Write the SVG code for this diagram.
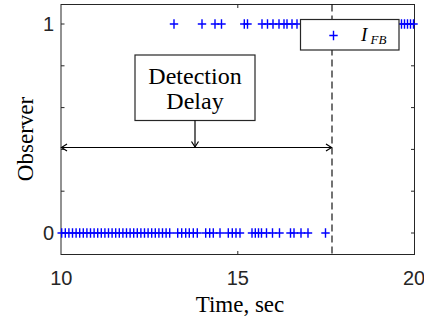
<svg xmlns="http://www.w3.org/2000/svg" xmlns:xlink="http://www.w3.org/1999/xlink" width="424" height="320" viewBox="0 0 424 320">
  <style>
    .axis { fill: none; stroke: #262626; stroke-width: 1; }
    .tick { stroke: #262626; stroke-width: 1; }
    .num { font-family: "Liberation Sans", Arial, sans-serif; font-size: 20px; fill: #262626; }
    .lbl { font-family: "Liberation Serif", "Times New Roman", serif; font-size: 23px; fill: #000; }
    .big { font-size: 24px; }
    .pts use { stroke: #0000ff; stroke-width: 1.4; }
    .box { fill: #fff; stroke: #262626; stroke-width: 1.2; }
    .conn { fill: none; stroke: #000; stroke-width: 1.2; }
    .dash { stroke: #000; stroke-width: 1.1; stroke-dasharray: 7 4; }
  </style>
  <defs>
    <path id="plus" d="M-4.2,0H4.2M0,-4.8V4.8"/>
    <marker id="chev" markerUnits="userSpaceOnUse" markerWidth="12" markerHeight="12" viewBox="-7 -6 8 12" refX="0" refY="0" orient="auto-start-reverse">
      <path d="M-5.5,-3.5L0,0L-5.5,3.5" fill="none" stroke="#000" stroke-width="1.2"/>
    </marker>
  </defs>

  <rect width="424" height="320" fill="#fff"/>

  <!-- plot frame and ticks -->
  <g id="axes">
    <rect class="axis" x="61" y="4.5" width="353.5" height="250"/>
    <g class="tick">
      <line x1="61" y1="24" x2="64.5" y2="24"/>
      <line x1="61" y1="65.8" x2="64.5" y2="65.8"/>
      <line x1="61" y1="107.6" x2="64.5" y2="107.6"/>
      <line x1="61" y1="149.4" x2="64.5" y2="149.4"/>
      <line x1="61" y1="191.2" x2="64.5" y2="191.2"/>
      <line x1="61" y1="233" x2="64.5" y2="233"/>
      <line x1="414.5" y1="24" x2="411" y2="24"/>
      <line x1="414.5" y1="65.8" x2="411" y2="65.8"/>
      <line x1="414.5" y1="107.6" x2="411" y2="107.6"/>
      <line x1="414.5" y1="149.4" x2="411" y2="149.4"/>
      <line x1="414.5" y1="191.2" x2="411" y2="191.2"/>
      <line x1="414.5" y1="233" x2="411" y2="233"/>
      <line x1="237.8" y1="254.5" x2="237.8" y2="251"/>
      <line x1="237.8" y1="4.5" x2="237.8" y2="8"/>
    </g>
    <text class="num" x="54" y="31" text-anchor="end">1</text>
    <text class="num" x="54" y="240" text-anchor="end">0</text>
    <text class="num" x="61.3" y="285" text-anchor="middle">10</text>
    <text class="num" x="237.8" y="285" text-anchor="middle">15</text>
    <text class="num" x="414" y="285" text-anchor="middle">20</text>
    <text class="lbl" x="240" y="311.5" text-anchor="middle">Time, sec</text>
    <text class="lbl" transform="translate(32.5,139) rotate(-90)" text-anchor="middle">Observer</text>
  </g>

  <!-- fault instant -->
  <line id="fault-line" class="dash" x1="332" y1="4.5" x2="332" y2="254.5"/>

  <!-- observer samples -->
  <g id="samples" class="pts">
    <!-- level 1 -->
    <use xlink:href="#plus" x="174" y="24"/>
    <use xlink:href="#plus" x="202" y="24"/>
    <use xlink:href="#plus" x="215" y="24"/>
    <use xlink:href="#plus" x="221.5" y="24"/>
    <use xlink:href="#plus" x="244.3" y="24"/>
    <use xlink:href="#plus" x="247.5" y="24"/>
    <use xlink:href="#plus" x="262" y="24"/>
    <use xlink:href="#plus" x="267.5" y="24"/>
    <use xlink:href="#plus" x="273" y="24"/>
    <use xlink:href="#plus" x="279" y="24"/>
    <use xlink:href="#plus" x="284" y="24"/>
    <use xlink:href="#plus" x="287" y="24"/>
    <use xlink:href="#plus" x="292" y="24"/>
    <use xlink:href="#plus" x="297" y="24"/>
    <use xlink:href="#plus" x="401.5" y="24"/>
    <use xlink:href="#plus" x="404.5" y="24"/>
    <use xlink:href="#plus" x="407.5" y="24"/>
    <use xlink:href="#plus" x="410.5" y="24"/>
    <use xlink:href="#plus" x="413.5" y="24"/>
    <!-- level 0 -->
    <use xlink:href="#plus" x="61.7" y="233"/>
    <use xlink:href="#plus" x="65.3" y="233"/>
    <use xlink:href="#plus" x="68.9" y="233"/>
    <use xlink:href="#plus" x="72.5" y="233"/>
    <use xlink:href="#plus" x="76.1" y="233"/>
    <use xlink:href="#plus" x="79.7" y="233"/>
    <use xlink:href="#plus" x="83.3" y="233"/>
    <use xlink:href="#plus" x="86.9" y="233"/>
    <use xlink:href="#plus" x="90.5" y="233"/>
    <use xlink:href="#plus" x="94.1" y="233"/>
    <use xlink:href="#plus" x="97.7" y="233"/>
    <use xlink:href="#plus" x="101.3" y="233"/>
    <use xlink:href="#plus" x="104.9" y="233"/>
    <use xlink:href="#plus" x="108.5" y="233"/>
    <use xlink:href="#plus" x="112.1" y="233"/>
    <use xlink:href="#plus" x="115.7" y="233"/>
    <use xlink:href="#plus" x="119.3" y="233"/>
    <use xlink:href="#plus" x="122.9" y="233"/>
    <use xlink:href="#plus" x="126.5" y="233"/>
    <use xlink:href="#plus" x="130.1" y="233"/>
    <use xlink:href="#plus" x="133.7" y="233"/>
    <use xlink:href="#plus" x="137.3" y="233"/>
    <use xlink:href="#plus" x="140.9" y="233"/>
    <use xlink:href="#plus" x="144.5" y="233"/>
    <use xlink:href="#plus" x="148.1" y="233"/>
    <use xlink:href="#plus" x="151.7" y="233"/>
    <use xlink:href="#plus" x="155.3" y="233"/>
    <use xlink:href="#plus" x="158.9" y="233"/>
    <use xlink:href="#plus" x="162.5" y="233"/>
    <use xlink:href="#plus" x="166.1" y="233"/>
    <use xlink:href="#plus" x="169.7" y="233"/>
    <use xlink:href="#plus" x="177.7" y="233"/>
    <use xlink:href="#plus" x="181.7" y="233"/>
    <use xlink:href="#plus" x="185.7" y="233"/>
    <use xlink:href="#plus" x="189.3" y="233"/>
    <use xlink:href="#plus" x="193.3" y="233"/>
    <use xlink:href="#plus" x="197.3" y="233"/>
    <use xlink:href="#plus" x="205.7" y="233"/>
    <use xlink:href="#plus" x="209.7" y="233"/>
    <use xlink:href="#plus" x="213.3" y="233"/>
    <use xlink:href="#plus" x="220" y="233"/>
    <use xlink:href="#plus" x="228.3" y="233"/>
    <use xlink:href="#plus" x="232.3" y="233"/>
    <use xlink:href="#plus" x="236" y="233"/>
    <use xlink:href="#plus" x="240" y="233"/>
    <use xlink:href="#plus" x="252" y="233"/>
    <use xlink:href="#plus" x="255.3" y="233"/>
    <use xlink:href="#plus" x="258.5" y="233"/>
    <use xlink:href="#plus" x="261.5" y="233"/>
    <use xlink:href="#plus" x="266.5" y="233"/>
    <use xlink:href="#plus" x="272.5" y="233"/>
    <use xlink:href="#plus" x="279.5" y="233"/>
    <use xlink:href="#plus" x="290.5" y="233"/>
    <use xlink:href="#plus" x="294" y="233"/>
    <use xlink:href="#plus" x="301" y="233"/>
    <use xlink:href="#plus" x="308" y="233"/>
    <use xlink:href="#plus" x="325.5" y="233"/>
  </g>

  <!-- legend -->
  <g id="legend">
    <rect class="box" x="300.5" y="19.5" width="98.5" height="30.5"/>
    <g class="pts"><use xlink:href="#plus" x="333.5" y="35.5"/></g>
    <text font-family="'Liberation Serif', 'Times New Roman', serif" font-style="italic" fill="#000"><tspan x="361" y="41" font-size="19">I</tspan><tspan x="370.5" y="44" font-size="13">FB</tspan></text>
  </g>

  <!-- annotation box -->
  <g id="detection-delay">
    <rect class="box" x="135" y="55" width="120" height="65.5" stroke="#000"/>
    <text class="lbl big" x="195" y="83.5" text-anchor="middle">Detection</text>
    <text class="lbl big" x="195" y="108.5" text-anchor="middle">Delay</text>
  </g>

  <!-- connectors -->
  <g id="connectors" class="conn">
    <line x1="195" y1="120.5" x2="195" y2="147" marker-end="url(#chev)"/>
    <line x1="61.5" y1="147.5" x2="331.5" y2="147.5" marker-start="url(#chev)" marker-end="url(#chev)"/>
  </g>
</svg>
